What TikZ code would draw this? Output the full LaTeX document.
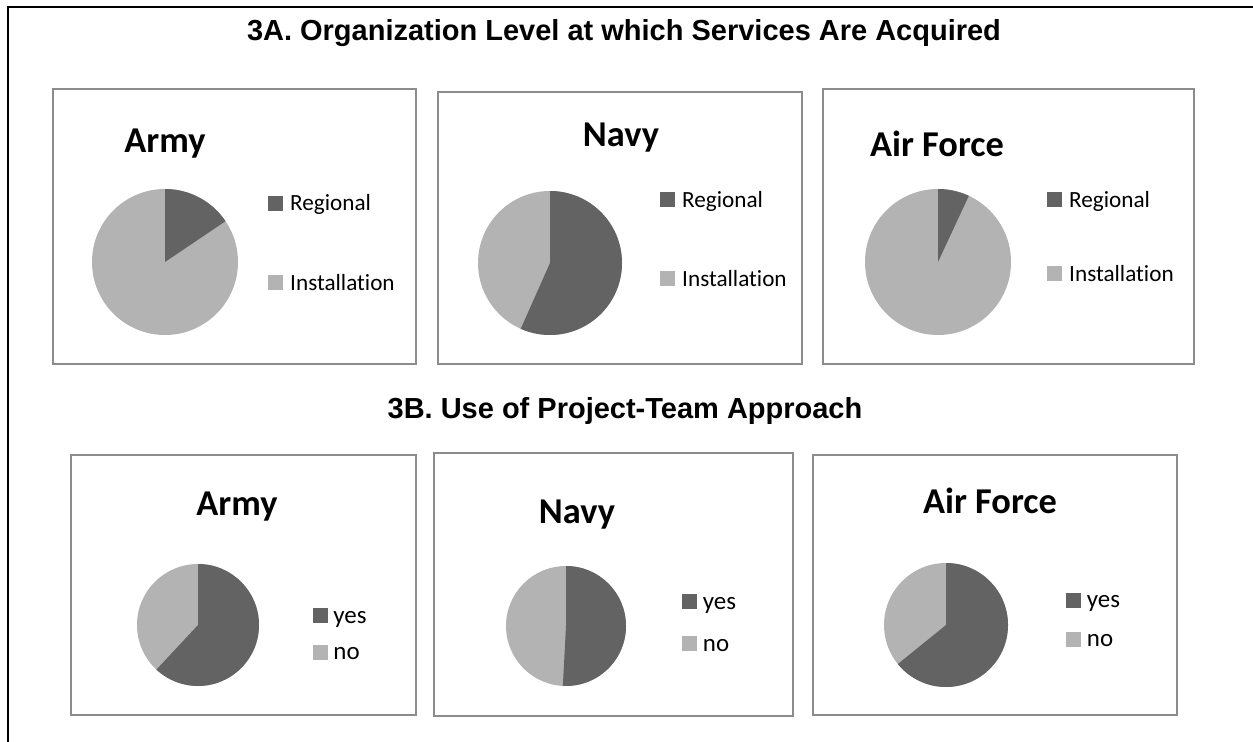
\documentclass[tikz,border=0pt]{standalone}
\usepackage{fontspec}
\setmainfont{Liberation Sans}
\newfontfamily\carlito[Ligatures=NoCommon]{Carlito}
\usetikzlibrary{positioning}

\definecolor{slicedark}{RGB}{99,99,99}
\definecolor{slicelight}{RGB}{179,179,179}
\definecolor{boxgray}{RGB}{140,140,140}

\tikzset{
    chartbox/.style={draw=boxgray, line width=1.1pt},
    headline/.style={font=\bfseries\fontsize{16.5}{19}\selectfont, anchor=base},
    charttitle/.style={font=\carlito\bfseries\fontsize{20.7}{24}\selectfont, anchor=base},
    keydark/.style={fill=slicedark, minimum size=0.3cm, inner sep=0pt},
    keylight/.style={fill=slicelight, minimum size=0.3cm, inner sep=0pt},
    keytext/.style={font=\carlito\fontsize{13.2}{15}\selectfont, inner sep=0pt, text height=8.5pt, text depth=0pt},
    keytextb/.style={font=\carlito\fontsize{14.2}{16}\selectfont, inner sep=0pt, text height=9.1pt, text depth=0pt}
}

\begin{document}
\begin{tikzpicture}[x=0.02cm, y=-0.02cm]
    \useasboundingbox (0, 0) rectangle (1253, 742);
    \clip (0, 0) rectangle (1253, 742);
    \draw[line width=1.2pt] (8, 7) rectangle (1265, 760);

    % 3A
    \node[headline] (headA) at (624, 41) {3A. Organization Level at which Services Are Acquired};

    \draw[chartbox] (53, 89) rectangle (416, 364);
    \draw[chartbox] (438, 92) rectangle (802, 364);
    \draw[chartbox] (823, 89) rectangle (1194, 364);

    \node[charttitle] (armyA) at (165, 153) {Army};
    \node[charttitle] (navyA) at (621, 147) {Navy};
    \node[charttitle] (airA) at (937, 157) {Air Force};

    \coordinate (armyApie) at (165, 262);
    \fill[slicelight] (armyApie) circle (73);
    \fill[slicedark] (armyApie) -- ++(-90:73) arc (-90:-34:73) -- cycle;

    \coordinate (navyApie) at (550, 263);
    \fill[slicelight] (navyApie) circle (72);
    \fill[slicedark] (navyApie) -- ++(-90:72) arc (-90:114:72) -- cycle;

    \coordinate (airApie) at (938, 262);
    \fill[slicelight] (airApie) circle (73);
    \fill[slicedark] (airApie) -- ++(-90:73) arc (-90:-65:73) -- cycle;

    \node[keydark] (armyAreg) at (275, 203.5) {};
    \node[keytext, right=4pt of armyAreg] (armyAregt) {Regional};
    \node[keylight] (armyAins) at (275, 283) {};
    \node[keytext, right=4pt of armyAins] (armyAinst) {Installation};

    \node[keydark] (navyAreg) at (667, 200) {};
    \node[keytext, right=4pt of navyAreg] (navyAregt) {Regional};
    \node[keylight] (navyAins) at (667, 279) {};
    \node[keytext, right=4pt of navyAins] (navyAinst) {Installation};

    \node[keydark] (airAreg) at (1054, 200) {};
    \node[keytext, right=4pt of airAreg] (airAregt) {Regional};
    \node[keylight] (airAins) at (1054, 274) {};
    \node[keytext, right=4pt of airAins] (airAinst) {Installation};

    % 3B
    \node[headline] (headB) at (625, 419) {3B. Use of Project-Team Approach};

    \draw[chartbox] (71, 455) rectangle (416, 715);
    \draw[chartbox] (434, 453) rectangle (793, 716);
    \draw[chartbox] (813, 455) rectangle (1177, 715);

    \node[charttitle] (armyB) at (237, 516) {Army};
    \node[charttitle] (navyB) at (577, 523) {Navy};
    \node[charttitle] (airB) at (990, 514) {Air Force};

    \coordinate (armyBpie) at (198, 625);
    \fill[slicelight] (armyBpie) circle (61);
    \fill[slicedark] (armyBpie) -- ++(-90:61) arc (-90:133:61) -- cycle;

    \coordinate (navyBpie) at (566, 626);
    \fill[slicelight] (navyBpie) circle (60);
    \fill[slicedark] (navyBpie) -- ++(-90:60) arc (-90:93:60) -- cycle;

    \coordinate (airBpie) at (946, 625);
    \fill[slicelight] (airBpie) circle (62);
    \fill[slicedark] (airBpie) -- ++(-90:62) arc (-90:141:62) -- cycle;

    \node[keydark] (armyByes) at (320, 615.5) {};
    \node[keytextb, right=3pt of armyByes] (armyByest) {yes};
    \node[keylight] (armyBno) at (320, 652) {};
    \node[keytextb, right=3pt of armyBno] (armyBnot) {no};

    \node[keydark] (navyByes) at (689.5, 601.5) {};
    \node[keytextb, right=3pt of navyByes] (navyByest) {yes};
    \node[keylight] (navyBno) at (689.5, 643.5) {};
    \node[keytextb, right=3pt of navyBno] (navyBnot) {no};

    \node[keydark] (airByes) at (1073.5, 600) {};
    \node[keytextb, right=3pt of airByes] (airByest) {yes};
    \node[keylight] (airBno) at (1073.5, 639) {};
    \node[keytextb, right=3pt of airBno] (airBnot) {no};
\end{tikzpicture}
\end{document}
